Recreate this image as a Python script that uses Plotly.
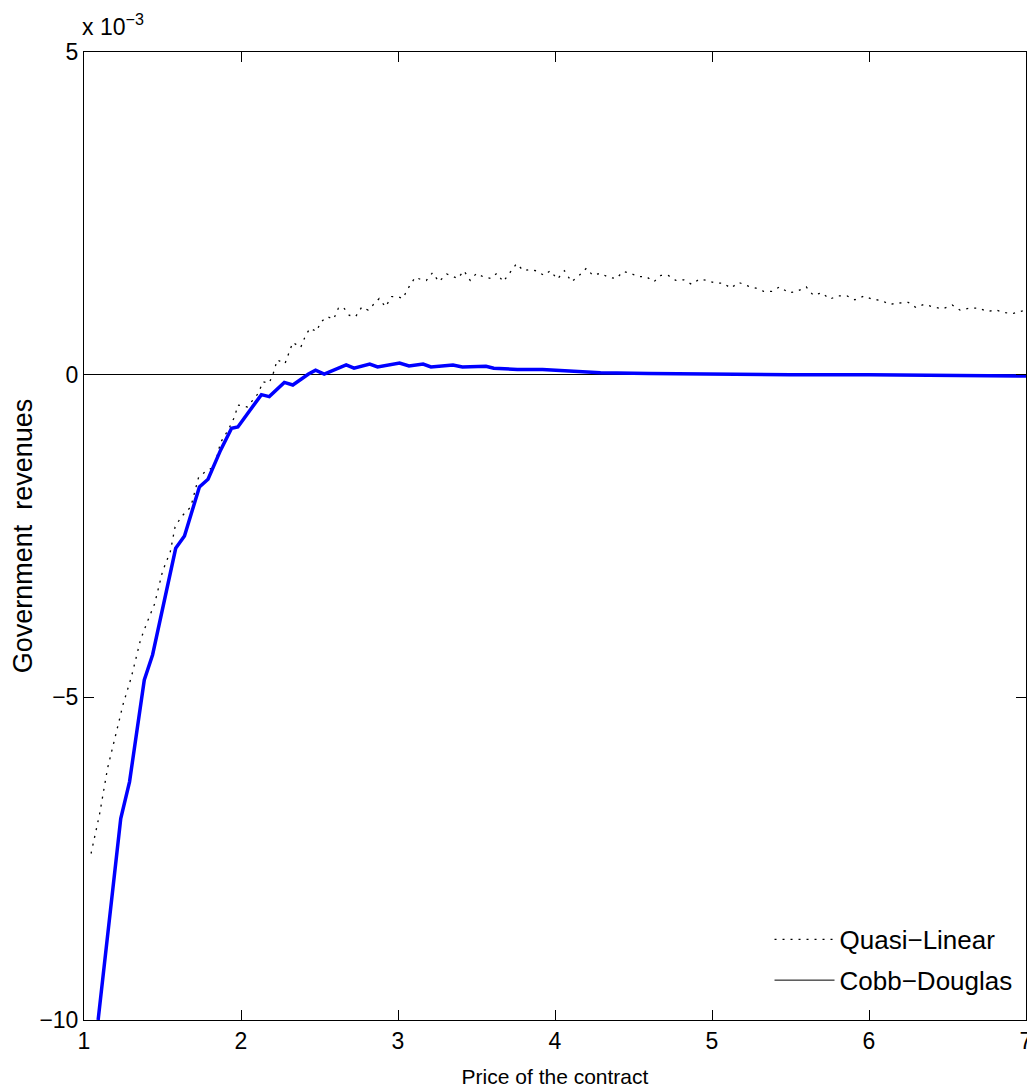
import plotly.graph_objects as go

# values are in units of 10^-3 (the axis multiplier shown top-left)
quasi_price = [1.045, 1.10, 1.15, 1.20, 1.25, 1.30, 1.36, 1.40, 1.45, 1.50, 1.55, 1.58, 1.62, 1.68,
               1.73, 1.78, 1.83, 1.87, 1.92, 1.96, 1.98, 2.04, 2.08, 2.11, 2.14, 2.18, 2.21, 2.23,
               2.28, 2.31, 2.33, 2.38, 2.41, 2.44, 2.48, 2.51, 2.55, 2.59, 2.62, 2.65, 2.69, 2.73,
               2.77, 2.81, 2.88, 2.92, 2.96, 3.00, 3.03, 3.07, 3.11, 3.15, 3.18, 3.22, 3.26, 3.31,
               3.34, 3.38, 3.42, 3.46, 3.50, 3.54, 3.59, 3.63, 3.67, 3.71, 3.755, 3.80, 3.84, 3.88,
               3.93, 3.97, 4.015, 4.06, 4.105, 4.155, 4.20, 4.24, 4.29, 4.34, 4.39, 4.435, 4.48,
               4.53, 4.58, 4.63, 4.675, 4.72, 4.77, 4.82, 4.87, 4.92, 4.97, 5.02, 5.07, 5.12, 5.17,
               5.22, 5.28, 5.33, 5.38, 5.43, 5.49, 5.54, 5.60, 5.645, 5.70, 5.75, 5.80, 5.86, 5.91,
               5.97, 6.02, 6.08, 6.13, 6.19, 6.25, 6.30, 6.35, 6.41, 6.47, 6.53, 6.58, 6.64, 6.70,
               6.75, 6.81, 6.87, 6.92, 6.98]
quasi_revenue = [-7.42, -6.80, -6.10, -5.60, -5.10, -4.70, -4.11, -3.85, -3.55, -3.05, -2.74, -2.36,
                 -2.20, -2.05, -1.59, -1.49, -1.43, -1.05, -0.85, -0.65, -0.47, -0.50, -0.38, -0.29,
                 -0.11, -0.13, 0.05, 0.23, 0.17, 0.36, 0.50, 0.42, 0.60, 0.72, 0.67, 0.82, 0.90, 0.86,
                 1.03, 1.05, 0.92, 0.90, 1.05, 1.00, 1.18, 1.05, 1.21, 1.21, 1.18, 1.36, 1.51, 1.47,
                 1.46, 1.58, 1.44, 1.56, 1.53, 1.49, 1.61, 1.46, 1.57, 1.52, 1.49, 1.57, 1.44, 1.58,
                 1.72, 1.61, 1.63, 1.61, 1.54, 1.61, 1.48, 1.61, 1.44, 1.54, 1.65, 1.54, 1.57, 1.51,
                 1.49, 1.60, 1.57, 1.52, 1.52, 1.44, 1.54, 1.54, 1.46, 1.47, 1.40, 1.48, 1.46, 1.42,
                 1.42, 1.34, 1.43, 1.38, 1.34, 1.29, 1.29, 1.36, 1.27, 1.29, 1.36, 1.23, 1.27, 1.17,
                 1.22, 1.22, 1.16, 1.22, 1.17, 1.15, 1.09, 1.11, 1.12, 1.04, 1.09, 1.05, 1.02, 1.08,
                 1.00, 1.03, 1.03, 0.98, 1.00, 0.96, 0.95, 0.99]

cobb_price = [1.09, 1.234, 1.29, 1.384, 1.437, 1.52, 1.584, 1.64, 1.735, 1.79, 1.87, 1.94, 1.98,
              2.13, 2.18, 2.276, 2.33, 2.43, 2.475, 2.53, 2.67, 2.72, 2.82, 2.87, 3.01, 3.07, 3.16,
              3.21, 3.35, 3.41, 3.56, 3.61, 3.76, 3.92, 4.11, 4.29, 4.6, 5.0, 5.5, 6.0, 6.5, 7.0]
cobb_revenue = [-10.0, -6.88, -6.31, -4.73, -4.34, -3.40, -2.69, -2.50, -1.74, -1.62, -1.17, -0.83,
                -0.81, -0.31, -0.34, -0.12, -0.16, 0.01, 0.07, 0.01, 0.15, 0.10, 0.165, 0.12, 0.18,
                0.135, 0.165, 0.12, 0.15, 0.12, 0.13, 0.10, 0.08, 0.08, 0.05, 0.03, 0.02, 0.01, 0.0,
                0.0, -0.01, -0.02]

x_ticks = [1, 2, 3, 4, 5, 6, 7]
y_ticks = [-10, -5, 0, 5]
y_ticklabels = ['\u221210', '\u22125', '0', '5']

font_family = "Liberation Sans, Arial"

fig = go.Figure()

fig.add_trace(go.Scatter(
    x=quasi_price, y=quasi_revenue, mode='lines',
    line=dict(color='black', width=1.3, dash='2px,6px'),
    showlegend=False
))
fig.add_trace(go.Scatter(
    x=cobb_price, y=cobb_revenue, mode='lines',
    line=dict(color='#0000ff', width=3.5),
    showlegend=False
))

# legend entries are drawn in thin black, as in the original
fig.add_trace(go.Scatter(
    x=[None], y=[None], mode='lines', name='Quasi\u2212Linear', legendgroup='ql',
    line=dict(color='black', width=1.3, dash='2px,6px')
))
fig.add_trace(go.Scatter(
    x=[None], y=[None], mode='lines', name='Cobb\u2212Douglas', legendgroup='cd',
    line=dict(color='black', width=1)
))

axis_common = dict(
    showline=True, linecolor='black', linewidth=1, mirror='allticks',
    ticks='inside', ticklen=10, tickwidth=1, tickcolor='black',
    showgrid=False, automargin=False,
    tickfont=dict(family=font_family, size=23, color='black'),
)

fig.update_xaxes(
    range=[1, 7], tickvals=x_ticks, zeroline=False,
    title=dict(text='Price of the contract', font=dict(family=font_family, size=21, color='black'), standoff=16),
    **axis_common
)
fig.update_yaxes(
    range=[-10, 5], tickvals=y_ticks, ticktext=y_ticklabels,
    zeroline=True, zerolinecolor='black', zerolinewidth=1,
    title=dict(text='Government\u00a0 revenues', font=dict(family=font_family, size=27, color='black'), standoff=12),
    **axis_common
)

fig.add_annotation(
    xref='paper', yref='paper', x=0, y=1, xanchor='left', yanchor='bottom',
    text='x 10<sup>\u22123</sup>', showarrow=False, yshift=10, xshift=-4,
    font=dict(family=font_family, size=23, color='black')
)

# the page body adds an 8px offset, so the figure is 8px smaller with margins shifted
fig.update_layout(
    width=1027, height=1084,
    margin=dict(l=76, r=9, t=44, b=72),
    plot_bgcolor='white', paper_bgcolor='white',
    legend=dict(x=0.991, y=0.0166, xanchor='right', yanchor='bottom',
                bgcolor='rgba(0,0,0,0)', font=dict(family=font_family, size=26, color='black'),
                itemwidth=60, tracegroupgap=4, traceorder='grouped'),
)

fig.write_html("out.html")
